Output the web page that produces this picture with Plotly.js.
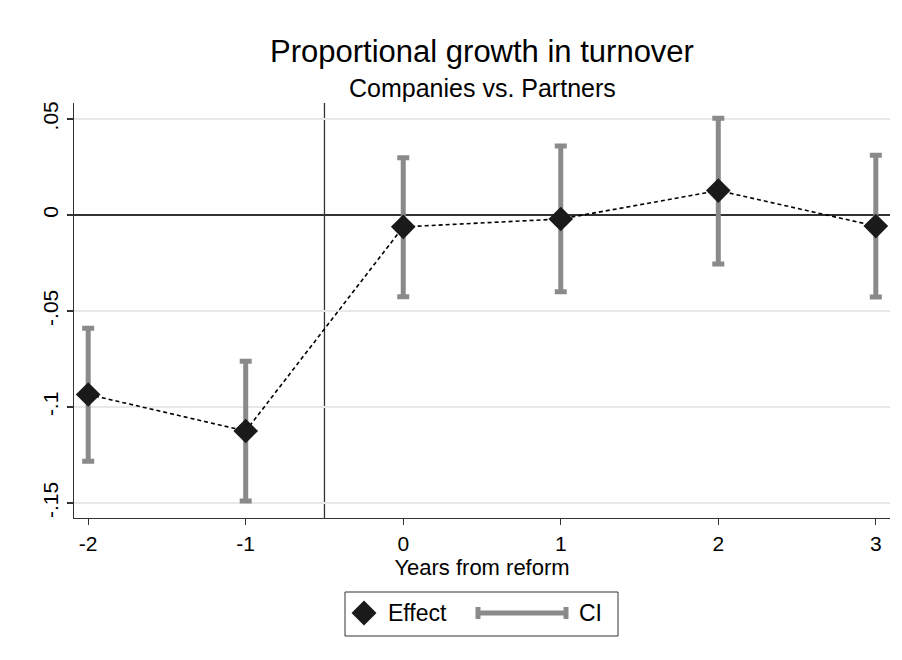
<!DOCTYPE html>
<html>
<head>
<meta charset="utf-8">
<script src="https://cdn.plot.ly/plotly-3.0.1.min.js"></script>
<style>html,body{margin:0;padding:0;background:#fff;}#chart{width:902px;height:660px;}</style>
</head>
<body>
<div id="chart"></div>
<script>
// Data
var years = [-2, -1, 0, 1, 2, 3];
var effect = [-0.0935, -0.1125, -0.0062, -0.0021, 0.0127, -0.0058];
var ciLower = [-0.1283, -0.1490, -0.0426, -0.0400, -0.0255, -0.0427];
var ciUpper = [-0.0590, -0.0762, 0.0298, 0.0359, 0.0504, 0.0311];
var yTickVals = [-0.15, -0.1, -0.05, 0, 0.05];
var yTickText = ['-.15', '-.1', '-.05', '0', '.05'];
var xTickVals = [-2, -1, 0, 1, 2, 3];
var xTickText = ['-2', '-1', '0', '1', '2', '3'];
var reformLine = -0.5;

var FONT = 'Liberation Sans, Arial, Helvetica, sans-serif';
var GREY = '#8a8a8a';
var DARK = '#1a1a1a';

var ciTrace = {
  x: years, y: effect, type: 'scatter', mode: 'markers',
  marker: {opacity: 0, size: 1},
  error_y: {
    type: 'data', symmetric: false,
    array: ciUpper.map(function (u, i) { return u - effect[i]; }),
    arrayminus: ciLower.map(function (l, i) { return effect[i] - l; }),
    color: GREY, thickness: 5, width: 6
  },
  showlegend: false, hoverinfo: 'skip'
};
var lineTrace = {
  x: years, y: effect, type: 'scatter', mode: 'lines',
  line: {color: '#000', width: 1.6, dash: '4px,3px'},
  showlegend: false, hoverinfo: 'skip'
};
var pointTrace = {
  x: years, y: effect, type: 'scatter', mode: 'markers',
  marker: {symbol: 'diamond', size: 19, color: DARK, line: {width: 0}},
  showlegend: false
};

// plot area in pixels: x 74..890, y 103..518
function px(p) { return (p - 74) / 816; }
function py(p) { return (518 - p) / 415; }
var legY = py(613);

var shapes = [
  {type: 'line', xref: 'x', yref: 'paper', x0: reformLine, x1: reformLine, y0: 0, y1: 1,
   line: {color: '#333', width: 1.3}, layer: 'below'},
  // legend box
  {type: 'rect', xref: 'paper', yref: 'paper', x0: px(345), x1: px(618), y0: py(636), y1: py(592),
   line: {color: '#333', width: 1}, fillcolor: 'rgba(0,0,0,0)'},
  // legend diamond
  {type: 'path', xref: 'paper', yref: 'paper', xsizemode: 'pixel', ysizemode: 'pixel',
   xanchor: px(364), yanchor: legY, path: 'M -12.5 0 L 0 12.5 L 12.5 0 L 0 -12.5 Z',
   fillcolor: DARK, line: {width: 0}},
  // legend CI line and caps
  {type: 'line', xref: 'paper', yref: 'paper', x0: px(478), x1: px(566), y0: legY, y1: legY,
   line: {color: GREY, width: 5}},
  {type: 'line', xref: 'paper', yref: 'paper', x0: px(478), x1: px(478), y0: py(607), y1: py(619),
   line: {color: GREY, width: 5}},
  {type: 'line', xref: 'paper', yref: 'paper', x0: px(566), x1: px(566), y0: py(607), y1: py(619),
   line: {color: GREY, width: 5}}
];

var annotations = [
  {text: 'Companies vs. Partners', xref: 'paper', yref: 'paper', x: 0.5, y: py(87.5),
   xanchor: 'center', yanchor: 'middle', showarrow: false, font: {family: FONT, size: 25, color: '#000'}},
  {text: 'Effect', xref: 'paper', yref: 'paper', x: px(386), y: legY,
   xanchor: 'left', yanchor: 'middle', showarrow: false, font: {family: FONT, size: 23, color: '#000'}},
  {text: 'CI', xref: 'paper', yref: 'paper', x: px(577), y: legY,
   xanchor: 'left', yanchor: 'middle', showarrow: false, font: {family: FONT, size: 23, color: '#000'}}
];

var layout = {
  width: 902, height: 660,
  margin: {l: 74, r: 12, t: 103, b: 142},
  paper_bgcolor: '#fff', plot_bgcolor: '#fff',
  font: {family: FONT, color: '#000', size: 21},
  title: {text: 'Proportional growth in turnover', xref: 'paper', x: 0.5, xanchor: 'center',
          yref: 'container', y: 1 - 51 / 660, yanchor: 'middle', font: {family: FONT, size: 31, color: '#000'}},
  showlegend: false,
  xaxis: {
    range: [-2.09, 3.09], tickvals: xTickVals, ticktext: xTickText,
    showgrid: false, zeroline: false, showline: true, linecolor: '#333', linewidth: 1.3,
    ticks: 'outside', ticklen: 6, tickwidth: 1.3, tickcolor: '#333',
    tickfont: {family: FONT, size: 21, color: '#000'},
    title: {text: 'Years from reform', font: {family: FONT, size: 22, color: '#000'}, standoff: 0}
  },
  yaxis: {
    range: [-0.1578, 0.0583], tickvals: yTickVals, ticktext: yTickText, tickangle: -90,
    showgrid: true, gridcolor: '#e8e8e8', gridwidth: 1.5,
    zeroline: true, zerolinecolor: '#333', zerolinewidth: 1.5,
    showline: true, linecolor: '#333', linewidth: 1.3,
    ticks: 'outside', ticklen: 6, tickwidth: 1.3, tickcolor: '#333',
    tickfont: {family: FONT, size: 21, color: '#000'}
  },
  shapes: shapes,
  annotations: annotations
};

Plotly.newPlot('chart', [ciTrace, lineTrace, pointTrace], layout, {displayModeBar: false, staticPlot: true});
</script>
</body>
</html>
